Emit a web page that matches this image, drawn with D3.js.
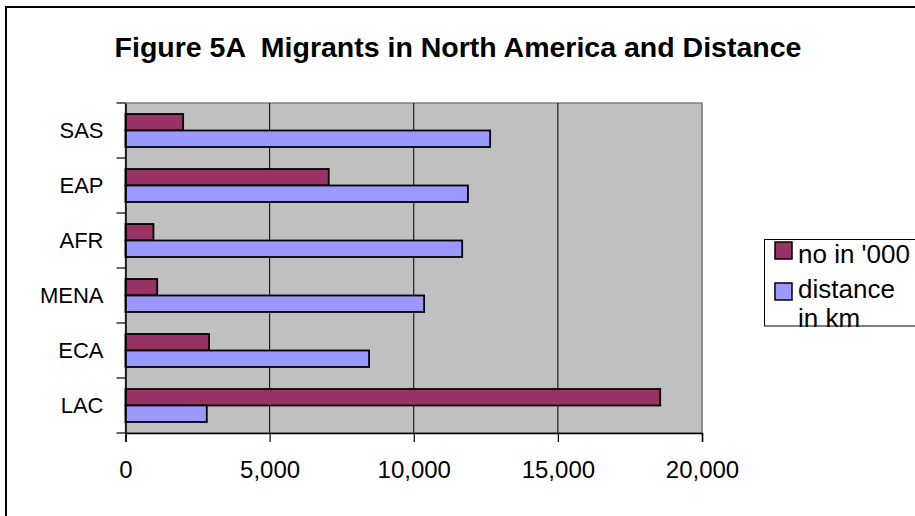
<!DOCTYPE html>
<html><head><meta charset="utf-8">
<script src="https://cdn.jsdelivr.net/npm/d3@7"></script>
<style>body{margin:0;background:#fff}svg{display:block}text{font-family:"Liberation Sans",Arial,sans-serif}</style>
</head><body><svg id="c" width="915" height="516"></svg>
<script>
const categories = ["SAS","EAP","AFR","MENA","ECA","LAC"];
const seriesNames = ["no in '000","distance in km"];
const migrants = [2000, 7050, 970, 1100, 2900, 18550];
const distance = [12650, 11880, 11680, 10360, 8450, 2820];
const xTicks = [0,5000,10000,15000,20000];
const colors = ["#993366","#9999FF"];

const svg = d3.select("#c");
svg.append("rect").attr("x",6).attr("y",7).attr("width",930).attr("height",530)
  .attr("fill","#fff").attr("stroke","#000").attr("stroke-width",2);

svg.append("text").attr("x",458).attr("y",57).attr("text-anchor","middle")
  .style("white-space","pre")
  .attr("font-weight","bold").attr("font-size",28.5).text("Figure 5A  Migrants in North America and Distance");

const x = d3.scaleLinear().domain([0,20000]).range([125.5,702]);
const y = d3.scaleBand().domain(categories).range([103,433]);
const inner = d3.scaleBand().domain(seriesNames).range([0,y.bandwidth()]).paddingOuter(0.667);

svg.append("rect").attr("x",x(0)).attr("y",103).attr("width",x(20000)-x(0)).attr("height",330)
  .attr("fill","#C0C0C0").attr("stroke","#808080").attr("stroke-width",1.5);

svg.append("g").selectAll("line").data(xTicks.slice(1)).join("line")
  .attr("x1",d=>x(d)).attr("x2",d=>x(d)).attr("y1",103).attr("y2",433)
  .attr("stroke",d=>d===20000?"#808080":"#000").attr("stroke-width",1);

const rows = categories.map((c,i)=>({c, vals:[migrants[i],distance[i]]}));
const g = svg.append("g").selectAll("g").data(rows).join("g")
  .attr("transform",d=>`translate(0,${y(d.c)})`);
g.selectAll("rect").data(d=>d.vals.map((v,j)=>({v,s:seriesNames[j],j}))).join("rect")
  .attr("x",x(0)).attr("y",d=>inner(d.s)).attr("width",d=>x(d.v)-x(0)).attr("height",inner.bandwidth())
  .attr("fill",d=>colors[d.j]).attr("stroke","#000").attr("stroke-width",1.8);

const xAxis = svg.append("g").attr("transform","translate(0,433)")
  .call(d3.axisBottom(x).tickValues(xTicks).tickSize(9).tickPadding(0).tickFormat(d3.format(",")));
xAxis.select(".domain").attr("stroke","#000").attr("stroke-width",1.5);
xAxis.selectAll(".tick line").attr("stroke","#000").attr("stroke-width",1.2);
xAxis.selectAll("text").attr("font-size",24).attr("fill","#000").attr("dy",null).attr("y",45)
  .attr("font-family","Liberation Sans, Arial, sans-serif");

const yAxis = svg.append("g").attr("transform",`translate(${x(0)},0)`)
  .call(d3.axisLeft(y).tickSize(0).tickPadding(22));
yAxis.select(".domain").attr("stroke","#000").attr("stroke-width",1.5);
yAxis.selectAll("text").attr("font-size",22).attr("fill","#000").attr("font-family","Liberation Sans, Arial, sans-serif");
svg.append("g").selectAll("line").data(categories.concat(["__end"])).join("line")
  .attr("x1",x(0)-9).attr("x2",x(0))
  .attr("y1",(d,i)=>103+i*y.step()).attr("y2",(d,i)=>103+i*y.step())
  .attr("stroke","#000").attr("stroke-width",1.2);

const lg = svg.append("g");
lg.append("rect").attr("x",764.5).attr("y",239.5).attr("width",200).attr("height",86.5)
  .attr("fill","#fff").attr("stroke","#000").attr("stroke-width",1);
const swY = [242, 283];
seriesNames.forEach((s,i)=>{
  lg.append("rect").attr("x",775).attr("y",swY[i]).attr("width",17).attr("height",17)
    .attr("fill",colors[i]).attr("stroke","#000").attr("stroke-width",1.5);
});
const legendText = ["no in '000","distance","in km"];
const ly = [263, 298, 327];
legendText.forEach((t,i)=>{
  lg.append("text").attr("x",798).attr("y",ly[i]).attr("font-size",26).text(t);
});
</script></body></html>
